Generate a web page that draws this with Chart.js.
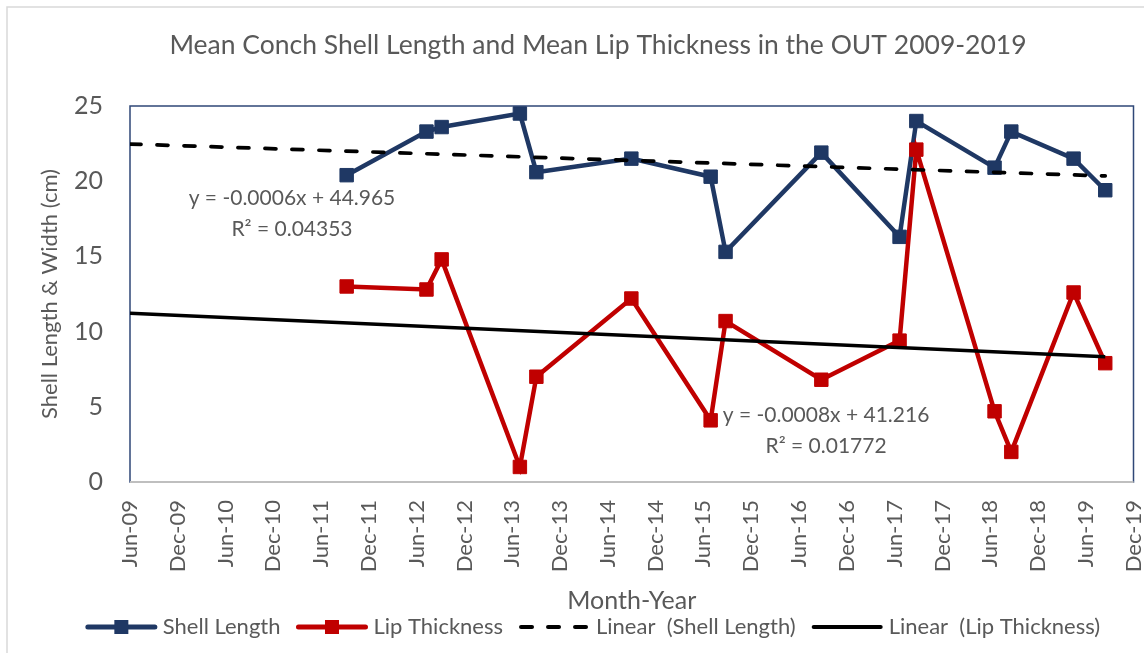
<!DOCTYPE html>
<html>
<head>
<meta charset="utf-8">
<script src="https://cdn.jsdelivr.net/npm/chart.js@4.4.1/dist/chart.umd.min.js"></script>
<style>
  html, body { margin: 0; padding: 0; background: #fff; }
</style>
</head>
<body>
<canvas id="grafico" width="1144" height="653"></canvas>
<script>
// sampling dates
const sampleDates = ['2011-09-07', '2012-07-08', '2012-09-04', '2013-06-30', '2013-09-01',
    '2014-08-30', '2015-06-29', '2015-08-25', '2016-08-25', '2017-06-20', '2017-08-23',
    '2018-06-18', '2018-08-21', '2019-04-16', '2019-08-15'];
const shellLength = [20.4, 23.3, 23.6, 24.5, 20.6, 21.5, 20.3, 15.3, 21.9, 16.3, 24.0, 20.9, 23.3, 21.5, 19.4];
const lipThickness = [13.0, 12.8, 14.8, 1.0, 7.0, 12.2, 4.1, 10.7, 6.8, 9.4, 22.1, 4.7, 2.0, 12.6, 7.9];

// trendline end points as drawn
const trendDates = ['2009-06-01', '2019-08-15'];
const shellTrend = [22.47, 20.35];
const lipTrend = [11.22, 8.33];

const tickLabels = ['Jun-09', 'Dec-09', 'Jun-10', 'Dec-10', 'Jun-11', 'Dec-11', 'Jun-12', 'Dec-12',
    'Jun-13', 'Dec-13', 'Jun-14', 'Dec-14', 'Jun-15', 'Dec-15', 'Jun-16', 'Dec-16', 'Jun-17',
    'Dec-17', 'Jun-18', 'Dec-18', 'Jun-19', 'Dec-19'];

const titulo = 'Mean Conch Shell Length and Mean Lip Thickness in the OUT 2009-2019';
const equacoes = [
    { linhas: ['y = -0.0006x + 44.965', 'R² = 0.04353'], data: '2011-02-10', valor: 18.9 },
    { linhas: ['y = -0.0008x + 41.216', 'R² = 0.01772'], data: '2016-09-12', valor: 4.45 },
];

const cinza = '#595959';
const fonte = 'Lato';
const meses = ['Jan', 'Feb', 'Mar', 'Apr', 'May', 'Jun', 'Jul', 'Aug', 'Sep', 'Oct', 'Nov', 'Dec'];

function diaDe(iso) {
    return Date.parse(iso) / 86400000;
}

function diaDoRotulo(rotulo) {
    const [m, a] = rotulo.split('-');
    return Date.UTC(2000 + Number(a), meses.indexOf(m), 1) / 86400000;
}

function pontos(datas, valores) {
    return datas.map((d, i) => ({ x: diaDe(d), y: valores[i] }));
}

const tickDays = tickLabels.map(diaDoRotulo);

const molduraPlugin = {
    id: 'moldura',
    beforeDraw(chart) {
        const ctx = chart.ctx;
        ctx.save();
        ctx.fillStyle = '#fff';
        ctx.fillRect(0, 0, chart.width, chart.height);
        ctx.strokeStyle = '#D9D9D9';
        ctx.lineWidth = 1.5;
        ctx.strokeRect(7, 7, chart.width + 40, chart.height + 40);
        ctx.fillStyle = cinza;
        ctx.font = '26.5px ' + fonte;
        ctx.textAlign = 'center';
        ctx.textBaseline = 'middle';
        ctx.fillText(titulo, 598, 45);
        ctx.restore();
    },
    beforeDatasetsDraw(chart) {
        const { ctx, chartArea: a } = chart;
        ctx.save();
        ctx.strokeStyle = '#2F4777';
        ctx.lineWidth = 1.5;
        ctx.strokeRect(a.left, a.top, a.right - a.left, a.bottom - a.top);
        ctx.strokeStyle = '#BFBFBF';
        ctx.lineWidth = 2;
        ctx.beginPath();
        ctx.moveTo(a.left, a.bottom);
        ctx.lineTo(a.right, a.bottom);
        ctx.stroke();
        ctx.restore();
    }
};

const equacoesPlugin = {
    id: 'equacoes',
    afterDatasetsDraw(chart) {
        const { ctx, scales } = chart;
        ctx.save();
        ctx.fillStyle = cinza;
        ctx.font = '21px ' + fonte;
        ctx.textAlign = 'center';
        ctx.textBaseline = 'middle';
        equacoes.forEach(eq => {
            const x = scales.x.getPixelForValue(diaDe(eq.data));
            const y = scales.y.getPixelForValue(eq.valor);
            eq.linhas.forEach((t, i) => ctx.fillText(t, x, y + i * 31));
        });
        ctx.restore();
    }
};

const legendaPlugin = {
    id: 'legenda',
    afterDraw(chart) {
        const ctx = chart.ctx;
        ctx.save();
        ctx.font = '22px ' + fonte;
        const itens = chart.data.datasets.map(ds => ({ ds, w: 71 + 6 + ctx.measureText(ds.label).width }));
        const espaco = 16;
        const total = itens.reduce((s, it) => s + it.w, 0) + espaco * (itens.length - 1);
        let x = 593 - total / 2;
        const y = 627;
        itens.forEach(({ ds, w }) => {
            ctx.beginPath();
            ctx.lineCap = 'round';
            ctx.strokeStyle = ds.borderColor;
            ctx.lineWidth = ds.pointRadius > 0 ? 5 : 4;
            ctx.setLineDash(ds.borderDash ? [11, 16] : []);
            ctx.moveTo(x + 2, y);
            ctx.lineTo(x + 69, y);
            ctx.stroke();
            ctx.setLineDash([]);
            if (ds.pointRadius > 0) {
                ctx.fillStyle = ds.borderColor;
                ctx.fillRect(x + 35.5 - 7, y - 7, 14, 14);
            }
            ctx.fillStyle = cinza;
            ctx.textBaseline = 'middle';
            ctx.fillText(ds.label, x + 77, y);
            x += w + espaco;
        });
        ctx.restore();
    }
};

const grafico = new Chart(document.getElementById('grafico'), {
    type: 'line',
    data: {
        datasets: [
            {
                label: 'Shell Length',
                data: pontos(sampleDates, shellLength),
                borderColor: '#1F3864',
                backgroundColor: '#1F3864',
                borderWidth: 4.5,
                pointStyle: 'rect',
                pointRadius: 9.5,
                pointBackgroundColor: '#1F3864',
                pointBorderColor: '#1F3864',
                pointBorderWidth: 1,
                clip: false,
                order: 3,
            },
            {
                label: 'Lip Thickness',
                data: pontos(sampleDates, lipThickness),
                borderColor: '#C00000',
                backgroundColor: '#C00000',
                borderWidth: 4.5,
                pointStyle: 'rect',
                pointRadius: 9.5,
                pointBackgroundColor: '#C00000',
                pointBorderColor: '#C00000',
                pointBorderWidth: 1,
                clip: false,
                order: 2,
            },
            {
                label: 'Linear  (Shell Length)',
                data: pontos(trendDates, shellTrend),
                borderColor: '#000',
                borderWidth: 3.7,
                borderDash: [11, 16],
                borderCapStyle: 'round',
                pointRadius: 0,
                order: 1,
            },
            {
                label: 'Linear  (Lip Thickness)',
                data: pontos(trendDates, lipTrend),
                borderColor: '#000',
                borderWidth: 3.5,
                pointRadius: 0,
                order: 0,
            },
        ],
    },
    options: {
        responsive: false,
        animation: false,
        layout: { padding: { left: 0, right: 10, top: 106, bottom: 37 } },
        plugins: {
            legend: { display: false },
            tooltip: { enabled: false },
        },
        scales: {
            x: {
                type: 'linear',
                min: tickDays[0],
                max: tickDays[tickDays.length - 1],
                grid: { display: false, drawTicks: false },
                border: { display: false },
                afterBuildTicks: s => { s.ticks = tickDays.map(v => ({ value: v })); },
                afterFit: s => {
                    s.height = 134;
                    s.paddingLeft = 0;
                    s.paddingRight = 0;
                },
                ticks: {
                    autoSkip: false,
                    minRotation: 90,
                    maxRotation: 90,
                    padding: 18,
                    color: cinza,
                    font: { family: fonte, size: 22 },
                    callback: (v, i) => tickLabels[i],
                },
                title: {
                    display: true,
                    text: 'Month-Year',
                    color: cinza,
                    font: { family: fonte, size: 25 },
                    padding: { top: 0, bottom: 0 },
                },
            },
            y: {
                min: 0,
                max: 25,
                grid: { display: false, drawTicks: false },
                border: { display: false },
                afterFit: s => { s.width = 130; },
                ticks: {
                    stepSize: 5,
                    padding: 27,
                    color: cinza,
                    font: { family: fonte, size: 25 },
                },
                title: {
                    display: true,
                    text: 'Shell Length & Width (cm)',
                    color: cinza,
                    font: { family: fonte, size: 22 },
                    padding: { top: 37, bottom: 0 },
                },
            },
        },
    },
    plugins: [molduraPlugin, equacoesPlugin, legendaPlugin],
});
</script>
</body>
</html>
